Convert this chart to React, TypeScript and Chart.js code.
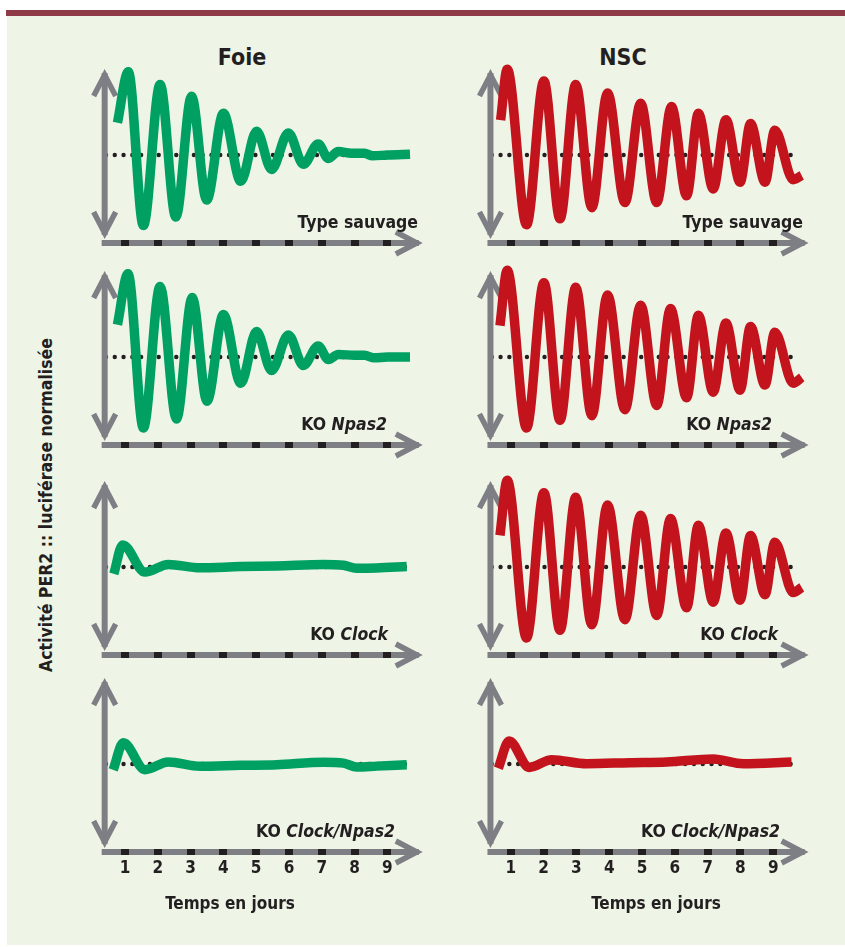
import React, { useEffect, useRef } from "react";
import { Chart, registerables } from "chart.js";
Chart.register(...registerables);

const FONT = "'DejaVu Sans Condensed', 'Liberation Sans Narrow', 'DejaVu Sans', sans-serif";
const INK = "#231f20";
const AXIS_GRAY = "#7e7f85";
const GREEN = "#00a063";
const RED = "#c3141d";
const BG = "#eef5e7";
const BAR = "#8e3b47";

// ---- data ----
const COLUMN_TITLES = ["Foie", "NSC"];
const ROW_LABELS: [string, string][] = [
  ["Type sauvage", ""],
  ["KO ", "Npas2"],
  ["KO ", "Clock"],
  ["KO ", "Clock/Npas2"],
];
const DAYS = [1, 2, 3, 4, 5, 6, 7, 8, 9];
const TICK_LABELS = ["1", "2", "3", "4", "5", "6", "7", "8", "9"];
const X_TITLE = "Temps en jours";
const Y_TITLE = "Activité PER2 :: luciférase normalisée";

// Foie (liver)
const FOIE_WT_X = [0.77, 1.1, 1.56, 2.07, 2.55, 3.03, 3.49, 4.0, 4.53, 5.01, 5.47, 5.98, 6.44, 6.89, 7.2, 7.5, 7.9, 8.3, 8.55, 9.0, 9.69];
const FOIE_WT_Y = [0.38, 0.98, -0.83, 0.83, -0.73, 0.69, -0.53, 0.49, -0.31, 0.28, -0.17, 0.26, -0.11, 0.13, -0.04, 0.04, 0.02, 0.02, -0.01, 0.0, 0.01];
const FOIE_NPAS2_X = [0.77, 1.09, 1.56, 2.07, 2.57, 3.05, 3.5, 4.0, 4.53, 5.01, 5.47, 5.98, 6.44, 6.89, 7.2, 7.5, 8.0, 8.3, 8.6, 9.0, 9.69];
const FOIE_NPAS2_Y = [0.38, 0.98, -0.835, 0.83, -0.73, 0.7, -0.52, 0.5, -0.31, 0.3, -0.16, 0.26, -0.1, 0.13, -0.03, 0.03, 0.02, 0.02, -0.01, 0.0, 0.0];
const FOIE_CLOCK_X = [0.66, 0.93, 1.61, 2.32, 3.29, 4.51, 5.63, 7.05, 7.66, 8.06, 8.67, 9.59];
const FOIE_CLOCK_Y = [-0.08, 0.26, -0.06, 0.03, -0.01, 0.005, 0.012, 0.03, 0.02, -0.015, -0.012, 0.005];
const FOIE_CLOCK_NPAS2_X = [0.64, 0.95, 1.61, 2.32, 3.29, 4.51, 5.63, 7.05, 7.66, 8.06, 8.67, 9.59];
const FOIE_CLOCK_NPAS2_Y = [-0.07, 0.25, -0.067, 0.024, -0.027, -0.016, -0.008, 0.02, 0.01, -0.035, -0.025, -0.008];

// NSC (suprachiasmatic nucleus)
const NSC_WT_X = [0.69, 0.89, 1.48, 2.01, 2.5, 2.98, 3.47, 3.95, 4.48, 4.96, 5.45, 5.9, 6.36, 6.72, 7.17, 7.56, 7.99, 8.31, 8.75, 9.05, 9.61, 9.87];
const NSC_WT_Y = [0.41, 1.01, -0.82, 0.87, -0.75, 0.83, -0.62, 0.73, -0.56, 0.61, -0.56, 0.57, -0.48, 0.49, -0.4, 0.415, -0.32, 0.37, -0.32, 0.29, -0.29, -0.24];
const NSC_NPAS2_X = [0.67, 0.89, 1.48, 2.01, 2.5, 2.98, 3.47, 3.95, 4.48, 4.96, 5.45, 5.87, 6.36, 6.72, 7.17, 7.56, 7.99, 8.31, 8.75, 9.05, 9.61, 9.87];
const NSC_NPAS2_Y = [0.37, 1.02, -0.835, 0.875, -0.745, 0.82, -0.69, 0.73, -0.62, 0.61, -0.57, 0.57, -0.48, 0.49, -0.415, 0.4, -0.39, 0.36, -0.33, 0.29, -0.31, -0.24];
const NSC_CLOCK_X = [0.67, 0.89, 1.48, 2.01, 2.5, 2.98, 3.47, 3.95, 4.48, 4.96, 5.45, 5.87, 6.36, 6.72, 7.17, 7.56, 7.99, 8.31, 8.75, 9.05, 9.61, 9.87];
const NSC_CLOCK_Y = [0.373, 1.02, -0.835, 0.875, -0.745, 0.82, -0.68, 0.73, -0.62, 0.61, -0.57, 0.57, -0.48, 0.49, -0.415, 0.4, -0.39, 0.37, -0.325, 0.29, -0.3, -0.24];
const NSC_CLOCK_NPAS2_X = [0.62, 0.95, 1.56, 2.25, 3.31, 4.63, 5.75, 7.17, 8.09, 9.56];
const NSC_CLOCK_NPAS2_Y = [-0.05, 0.27, -0.04, 0.05, 0.004, 0.016, 0.024, 0.06, 0.004, 0.024];

const SERIES_X = [
  [FOIE_WT_X, FOIE_NPAS2_X, FOIE_CLOCK_X, FOIE_CLOCK_NPAS2_X],
  [NSC_WT_X, NSC_NPAS2_X, NSC_CLOCK_X, NSC_CLOCK_NPAS2_X],
];
const SERIES_Y = [
  [FOIE_WT_Y, FOIE_NPAS2_Y, FOIE_CLOCK_Y, FOIE_CLOCK_NPAS2_Y],
  [NSC_WT_Y, NSC_NPAS2_Y, NSC_CLOCK_Y, NSC_CLOCK_NPAS2_Y],
];
const COLUMN_COLORS = [GREEN, RED];

// ---- layout ----
const COL_LEFT = [88, 476];
const COL_WIDTH = 342;
const COL_DAY_RANGE = [
  [-0.128, 10.299],
  [-0.061, 10.366],
];
const ROW_BASE = [155.3, 356.7, 566.7, 764.3];
const UNIT = 85;
const TOP_PAD = 95;
const AREA_H = 201;
const AREA_H_BOTTOM = 189;
const AXIS_BAND = 30;
const LABEL_RIGHT = [
  [418, 387, 388, 395],
  [803, 772, 778, 780],
];
const TITLE_X = [242, 623];
const XTITLE_X = [230, 656];

const Y_AXIS_DAY = 0.38;
const X_TIP_DAY = 10.05;
const Y_TOP_VAL = 1.0;
const Y_BOT_VAL = -0.976;
const X_AXIS_VAL = -1.035;
const DOT_START = 0.42;
const DOT_END = 9.68;
const DOT_STEP = 0.268;

const axesPlugin = {
  id: "panelAxes",
  beforeDatasetsDraw(chart: any) {
    const ctx = chart.ctx as CanvasRenderingContext2D;
    const xs = chart.scales.x;
    const ys = chart.scales.y;
    const ax = xs.getPixelForValue(Y_AXIS_DAY);
    const by = ys.getPixelForValue(0);
    ctx.save();
    // dotted baseline
    ctx.fillStyle = INK;
    for (let d = DOT_START; d <= DOT_END + 1e-6; d += DOT_STEP) {
      ctx.beginPath();
      ctx.arc(xs.getPixelForValue(d), by, 2.2, 0, Math.PI * 2);
      ctx.fill();
    }
    // vertical double arrow
    const yTop = ys.getPixelForValue(Y_TOP_VAL);
    const yBot = ys.getPixelForValue(Y_BOT_VAL);
    ctx.strokeStyle = AXIS_GRAY;
    ctx.lineCap = "butt";
    ctx.lineWidth = 6;
    ctx.beginPath();
    ctx.moveTo(ax, yTop + 3);
    ctx.lineTo(ax, yBot - 3);
    ctx.stroke();
    ctx.lineWidth = 5.5;
    ctx.lineJoin = "miter";
    ctx.beginPath();
    ctx.moveTo(ax - 11, yTop + 26);
    ctx.lineTo(ax, yTop + 5);
    ctx.lineTo(ax + 11, yTop + 26);
    ctx.stroke();
    ctx.beginPath();
    ctx.moveTo(ax - 11, yBot - 26);
    ctx.lineTo(ax, yBot - 5);
    ctx.lineTo(ax + 11, yBot - 26);
    ctx.stroke();
    // horizontal axis
    const xy = ys.getPixelForValue(X_AXIS_VAL);
    const tip = xs.getPixelForValue(X_TIP_DAY);
    ctx.lineWidth = 6;
    ctx.beginPath();
    ctx.moveTo(ax - 3, xy);
    ctx.lineTo(tip - 3, xy);
    ctx.stroke();
    ctx.lineWidth = 5.5;
    ctx.beginPath();
    ctx.moveTo(tip - 26, xy - 11);
    ctx.lineTo(tip - 5, xy);
    ctx.lineTo(tip - 26, xy + 11);
    ctx.stroke();
    ctx.fillStyle = INK;
    for (const d of DAYS) {
      const px = xs.getPixelForValue(d);
      ctx.fillRect(Math.round(px - 4), Math.round(xy - 3), 8, 6);
    }
    ctx.restore();
  },
};

function Panel({ col, row }: { col: number; row: number }) {
  const ref = useRef<HTMLCanvasElement>(null);
  const bottom = row === 3;
  const areaH = bottom ? AREA_H_BOTTOM : AREA_H;
  const canvasH = bottom ? areaH + AXIS_BAND : areaH;
  useEffect(() => {
    const xsArr = SERIES_X[col][row];
    const ysArr = SERIES_Y[col][row];
    const [xmin, xmax] = COL_DAY_RANGE[col];
    const xScale: any = {
      type: "linear",
      min: xmin,
      max: xmax,
      display: bottom,
      grid: { display: false, drawTicks: false },
      border: { display: false },
      ticks: {
        padding: 0,
        autoSkip: false,
        maxRotation: 0,
        color: INK,
        font: { family: FONT, size: 17, weight: "bold" },
        callback: (v: any) => {
          const i = DAYS.indexOf(Number(v));
          return i >= 0 ? TICK_LABELS[i] : "";
        },
      },
    };
    if (bottom) {
      xScale.afterBuildTicks = (s: any) => {
        s.ticks = DAYS.map((v) => ({ value: v }));
      };
      xScale.afterFit = (s: any) => {
        s.height = AXIS_BAND;
      };
    }
    const chart = new Chart(ref.current as HTMLCanvasElement, {
      type: "line",
      data: {
        datasets: [
          {
            data: xsArr.map((x, i) => ({ x, y: ysArr[i] })),
            borderColor: COLUMN_COLORS[col],
            borderWidth: 9.5,
            pointRadius: 0,
            cubicInterpolationMode: "monotone",
            fill: false,
            borderCapStyle: "butt",
            borderJoinStyle: "round",
          } as any,
        ],
      },
      options: {
        responsive: false,
        animation: false,
        devicePixelRatio: 1,
        events: [],
        layout: { padding: 0 },
        plugins: {
          legend: { display: false },
          tooltip: { enabled: false },
          title: { display: false },
        },
        scales: {
          x: xScale,
          y: {
            type: "linear",
            min: -(areaH - TOP_PAD) / UNIT,
            max: TOP_PAD / UNIT,
            display: false,
          },
        },
      },
      plugins: [axesPlugin],
    });
    return () => chart.destroy();
  }, []);
  return (
    <canvas
      ref={ref}
      width={COL_WIDTH}
      height={canvasH}
      style={{
        position: "absolute",
        left: COL_LEFT[col],
        top: ROW_BASE[row] - TOP_PAD,
        width: COL_WIDTH,
        height: canvasH,
      }}
    />
  );
}

const textBase: React.CSSProperties = {
  position: "absolute",
  fontFamily: FONT,
  fontWeight: "bold",
  color: INK,
  whiteSpace: "nowrap",
};

export default function App() {
  const panels: JSX.Element[] = [];
  const labels: JSX.Element[] = [];
  for (let c = 0; c < 2; c++) {
    for (let r = 0; r < 4; r++) {
      panels.push(<Panel key={`p${c}${r}`} col={c} row={r} />);
      const [plain, ital] = ROW_LABELS[r];
      labels.push(
        <div
          key={`l${c}${r}`}
          style={{
            ...textBase,
            right: 845 - LABEL_RIGHT[c][r],
            top: ROW_BASE[r] + 67 - 10,
            fontSize: 17.5,
            lineHeight: "20px",
          }}
        >
          {plain}
          {ital && <span style={{ fontStyle: "italic" }}>{ital}</span>}
        </div>
      );
    }
  }
  return (
    <div
      style={{
        position: "absolute",
        left: 0,
        top: 0,
        width: 845,
        height: 947,
        background: "#ffffff",
        overflow: "hidden",
      }}
    >
      <div style={{ position: "absolute", left: 6, top: 10, width: 839, height: 6, background: BAR }} />
      <div style={{ position: "absolute", left: 7, top: 16, width: 838, height: 929, background: BG }} />
      {COLUMN_TITLES.map((t, i) => (
        <div
          key={t}
          style={{
            ...textBase,
            left: TITLE_X[i],
            top: 57,
            transform: "translate(-50%, -50%)",
            fontSize: 23,
            lineHeight: "26px",
          }}
        >
          {t}
        </div>
      ))}
      {panels}
      {labels}
      {XTITLE_X.map((x, i) => (
        <div
          key={`xt${i}`}
          style={{
            ...textBase,
            left: x,
            top: 903,
            transform: "translate(-50%, -50%)",
            fontSize: 17,
            lineHeight: "20px",
          }}
        >
          {X_TITLE}
        </div>
      ))}
      <div
        style={{
          ...textBase,
          left: 46,
          top: 505,
          transform: "translate(-50%, -50%) rotate(-90deg)",
          fontSize: 17.5,
          lineHeight: "20px",
        }}
      >
        {Y_TITLE}
      </div>
    </div>
  );
}
